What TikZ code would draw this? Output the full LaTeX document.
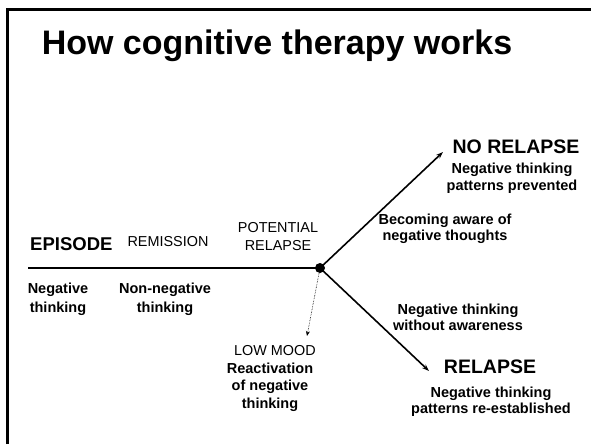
\documentclass[tikz,border=0pt]{standalone}
\usepackage{fontspec}
\setmainfont{Liberation Sans}
\usepackage{tikz}
\usetikzlibrary{ positioning, arrows.meta }

\begin{document}
\begin{tikzpicture}[
  x=1pt, y=-1pt,
  title/.style={font=\bfseries\fontsize{34}{40}\selectfont, anchor=base},
  outcome/.style={font=\bfseries\fontsize{19.5}{22}\selectfont, anchor=base, inner sep=0pt},
  phase/.style={font=\fontsize{14.4}{18}\selectfont, anchor=base, inner sep=0pt, align=center},
  note/.style={font=\bfseries\fontsize{14.5}{15.5}\selectfont, anchor=base, inner sep=0pt, align=center},
  ar/.style={-{Stealth[length=7pt, width=5pt]}, line width=1.6pt},
  hint/.style={-{Stealth[length=5pt, width=4pt]}, densely dotted, line width=0.6pt},
]
  \useasboundingbox (0,0) rectangle (591,444);
  % slide frame, only top and left edges fall inside
  \draw[line width=3pt] (7.5,444) -- (7.5,10) -- (591,10);

  \node[title] (head) at (277,55) {How cognitive therapy works};

  % time line and branching point
  \coordinate (start) at (28,268);
  \node[circle, fill, inner sep=0pt, minimum size=10pt] (split) at (320,268) {};
  \coordinate (up) at (443,152);
  \coordinate (down) at (429,371);
  \coordinate (low) at (307,336);
  \draw[line width=1.6pt] (start) -- (split.center);
  \draw[ar] (split.center) -- (up);
  \draw[ar] (split.center) -- (down);
  \draw[hint] (split) -- (low);

  % phases above the line (base = last line)
  \node[font=\bfseries\fontsize{18.5}{22}\selectfont, anchor=base west, inner sep=0pt] (episode) at (30,250) {EPISODE};
  \node[phase] (remission) at (168,246) {REMISSION};
  \node[phase] (potential) at (278,250) {POTENTIAL\\RELAPSE};

  % below the line
  \node[note, font=\bfseries\fontsize{14.5}{19}\selectfont] (negthink) at (58,312) {Negative\\thinking};
  \node[note, font=\bfseries\fontsize{14.5}{19}\selectfont] (nonneg) at (165,312) {Non-negative\\thinking};

  % upper branch
  \node[outcome] (norelapse) at (516,153) {NO RELAPSE};
  \node[note, font=\bfseries\fontsize{14.5}{17}\selectfont] (prevented) at (512,190) {Negative thinking\\patterns prevented};
  \node[note] (aware) at (445,240) {Becoming aware of\\negative thoughts};

  % lower branch
  \node[note] (unaware) at (458,330) {Negative thinking\\without awareness};
  \node[outcome] (relapse) at (490,373) {RELAPSE};
  \node[note] (reestab) at (491,413) {Negative thinking\\patterns re-established};

  % low mood
  \node[phase] (lowmood) at (275,355) {LOW MOOD};
  \node[note, font=\bfseries\fontsize{14.5}{17.5}\selectfont] (react) at (270,408) {Reactivation\\of negative\\thinking};
\end{tikzpicture}
\end{document}
